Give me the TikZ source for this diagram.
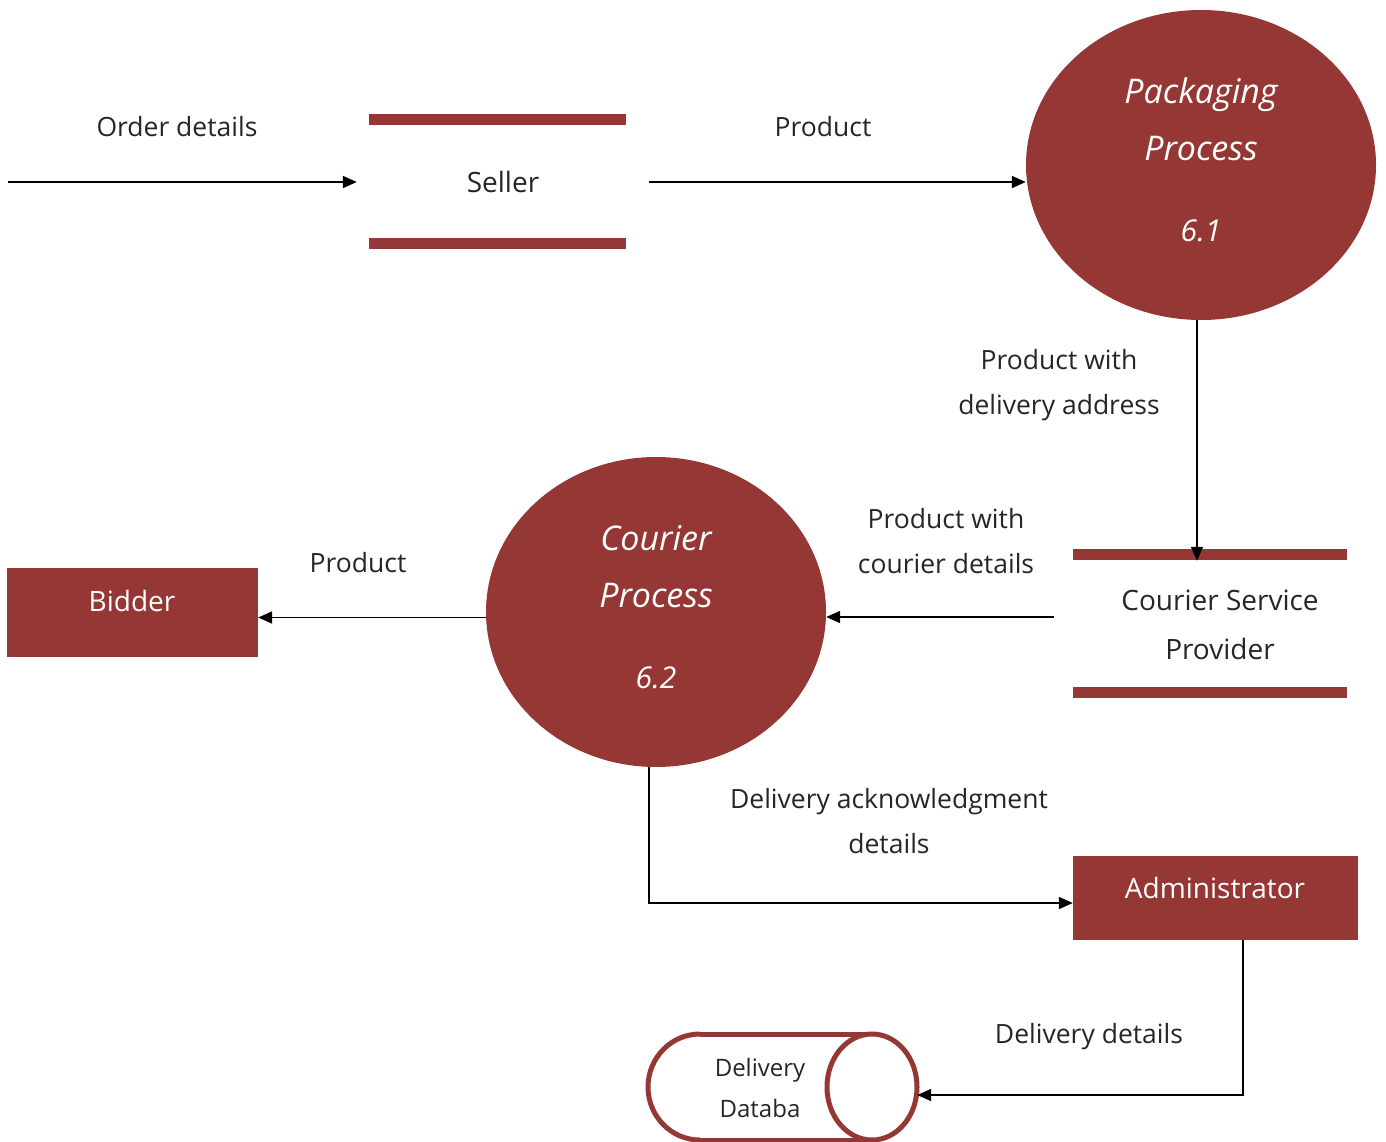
\documentclass[tikz,border=0pt]{standalone}
\usepackage{fontspec}
\setmainfont{Open Sans}
\usetikzlibrary{arrows.meta,shapes.geometric,calc}
\definecolor{dred}{RGB}{149,55,53}
\definecolor{txt}{RGB}{38,38,38}
\begin{document}
\begin{tikzpicture}[x=1pt,y=-1pt,
  lbl/.style={font=\fontsize{26.5}{45}\selectfont, text=txt, align=center, inner sep=0},
  flow/.style={line width=1.8pt, -{Triangle[length=14pt,width=12pt]}},
  proc/.style={ellipse, fill=dred, inner sep=0, text=white, align=center,
    font=\fontsize{34}{57}\selectfont\itshape},
  ext/.style={rectangle, fill=dred, inner sep=0},
  wtxt/.style={text=white, font=\fontsize{28}{30}\selectfont, inner sep=0},
  store/.style={rectangle, inner sep=0, text=txt, align=center, font=\fontsize{28}{49}\selectfont},
  bar/.style={fill=dred}
]
\useasboundingbox[fill=white] (0,0) rectangle (1386,1142);

% Seller data store
\fill[bar] (369,114) rectangle (626,125);
\fill[bar] (369,238) rectangle (626,249);
\node[store, minimum width=292, minimum height=110] (seller) at (503,182) {Seller};

% Packaging process
\node[proc, minimum width=350, minimum height=310] (pack) at (1201,165) {};
\node[proc, fill=none] (packtxt) at (1201,160) {Packaging\\Process\\[24pt]{\fontsize{30}{40}\selectfont 6.1}};

% Courier service provider store
\fill[bar] (1073,549) rectangle (1347,560);
\fill[bar] (1073,687) rectangle (1347,698);
\node[store, minimum width=332, minimum height=128] (csp) at (1220,625)
  {Courier Service\\Provider};

% Courier process
\node[proc, minimum width=340, minimum height=310] (courier) at (656,612) {};
\node[proc, fill=none] (couriertxt) at (656,607) {Courier\\Process\\[24pt]{\fontsize{30}{40}\selectfont 6.2}};

% Bidder
\node[ext, minimum width=251, minimum height=89] (bidder) at (132.5,612.5) {};
\node[wtxt] (biddertxt) at (132,601) {Bidder};

% Administrator
\node[ext, minimum width=285, minimum height=84] (admin) at (1215.5,898) {};
\node[wtxt] (admintxt) at (1215,888) {Administrator};

% Delivery database
\filldraw[draw=dred, fill=white, line width=5pt] (700,1087) ellipse[x radius=52, y radius=53];
\fill[white] (700,1030) rectangle (872,1144);
\draw[dred, line width=5pt] (700,1034) -- (872,1034) (700,1140) -- (872,1140);
\filldraw[draw=dred, fill=white, line width=5pt] (872,1087) ellipse[x radius=45, y radius=53];
\node[minimum width=269, minimum height=106, inner sep=0] (db) at (782.5,1087) {};
\node[lbl, font=\fontsize{24}{41}\selectfont] (dbtxt) at (760,1088) {Delivery\\Databa};

% Connectors
\coordinate (src) at (8,182);
\draw[flow] (src) -- (seller.west);
\draw[flow] (seller.east) -- (seller.east -| pack.west);
\draw[flow] ([xshift=-4pt]pack.south) -- ([xshift=-4pt]pack.south |- csp.north);
\path ([yshift=8pt]csp.west) coordinate (cspout);
\draw[flow] (cspout) -- (courier.east |- cspout);
\path ([yshift=-5pt]bidder.east) coordinate (bidin);
\draw[flow] (courier.west |- bidin) -- (bidin);
\draw[flow] ([xshift=-7pt]courier.south) |- ([yshift=-5pt]admin.west);
\draw[flow] ([xshift=27.5pt]admin.south) |- ([yshift=-8pt]db.east);

% Labels
\node[lbl] (l1) at (177,127) {Order details};
\node[lbl] (l2) at (823,127) {Product};
\node[lbl] (l3) at (1059,385) {Product with\\delivery address};
\node[lbl] (l4) at (946,541) {Product with\\courier details};
\node[lbl] (l5) at (358,563) {Product};
\node[lbl] (l6) at (889,821) {Delivery acknowledgment\\details};
\node[lbl] (l7) at (1089,1037) {Delivery details};
\end{tikzpicture}
\end{document}
